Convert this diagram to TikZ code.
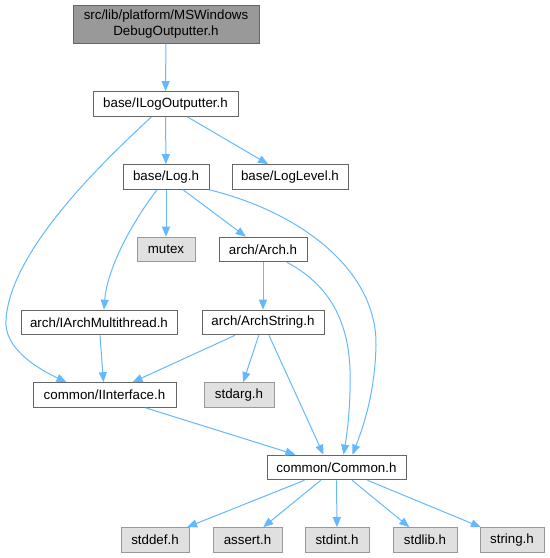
\documentclass[tikz,border=0pt]{standalone}
\usepackage{fontspec}
\setmainfont{Liberation Sans}
\usetikzlibrary{arrows.meta,calc}
\definecolor{edgeblue}{HTML}{63B8FF}
\definecolor{boxline}{HTML}{666666}
\definecolor{sysline}{HTML}{999999}
\definecolor{sysfill}{HTML}{E0E0E0}
\definecolor{topfill}{HTML}{999999}

\begin{document}
\begin{tikzpicture}[x=0.75pt,y=-0.75pt,line width=0.75pt,
  hbox/.style={draw=boxline,fill=white,inner sep=0pt,minimum height=18.5pt,font=\fontsize{10}{12}\selectfont},
  sysbox/.style={hbox,draw=sysline,fill=sysfill},
  dep/.style={draw=edgeblue,-{Triangle[length=7.5pt,width=6pt]}}]
\useasboundingbox (0,0) rectangle (550,558);
% 起点文件
\node[hbox,fill=topfill,minimum width=139.5pt,minimum height=28.5pt,align=center] (top) at (166,24)
  {src/lib/platform/MSWindows\\DebugOutputter.h};
% 项目头文件
\node[hbox,minimum width=108.75pt] (ilog) at (165.5,104) {base/ILogOutputter.h};
\node[hbox,minimum width=64.5pt] (log) at (166,177) {base/Log.h};
\node[hbox,minimum width=87pt] (loglevel) at (290,177) {base/LogLevel.h};
\node[hbox,minimum width=66pt] (arch) at (263,249.5) {arch/Arch.h};
\node[hbox,minimum width=117pt] (iarchmt) at (99,322.5) {arch/IArchMultithread.h};
\node[hbox,minimum width=91.5pt] (archstring) at (263,322.5) {arch/ArchString.h};
\node[hbox,minimum width=107.25pt] (iinterface) at (104.5,395) {common/IInterface.h};
\node[hbox,minimum width=104.25pt] (common) at (336.5,467.5) {common/Common.h};
% 系统头文件
\node[sysbox,minimum width=43.5pt] (mutex) at (166,249.5) {mutex};
\node[sysbox,minimum width=52.5pt] (stdarg) at (239,395) {stdarg.h};
\foreach \n/\x/\w in {stddef/155/51,assert/247.5/51.75,stdint/337/48,stdlib/425/48,string/512/48}
  \node[sysbox,minimum width=\w pt] (\n) at (\x,540) {\n.h};
% 直线依赖
\draw[dep] (top) -- (ilog);
\draw[dep] (ilog) -- (log);
\draw[dep] (ilog) -- (loglevel);
\draw[dep] (log) -- (mutex);
\draw[dep] (log) -- (arch);
\draw[dep] (arch) -- (archstring);
\draw[dep] (archstring) -- (iinterface);
\draw[dep] (archstring) -- (stdarg);
\draw[dep] ($(archstring.south)+(6,0)$) -- ($(common.north)+(-13,0)$);
\draw[dep] (iarchmt) -- (iinterface);
\draw[dep] (iinterface) -- (common);
\foreach \n in {stddef,assert,stdint,stdlib,string}
  \draw[dep] (common) -- (\n);
% 弯曲依赖
\draw[dep] ($(ilog.south)+(-14,0)$) .. controls (105,160) and (10,250) .. (6,320)
  .. controls (4,345) and (30,365) .. ($(iinterface.north)+(-38,0)$);
\draw[dep] ($(log.south)+(-9,0)$) .. controls (130,225) and (107,270) .. ($(iarchmt.north)+(5,0)$);
\draw[dep] (log.south east) .. controls (300,212) and (377,270) .. (376,345)
  .. controls (375,395) and (362,430) .. ($(common.north)+(16,0)$);
\draw[dep] ($(arch.south)+(24,0)$) .. controls (320,280) and (348,310) .. (350,370)
  .. controls (351,410) and (346,440) .. ($(common.north)+(7,0)$);
\end{tikzpicture}
\end{document}
